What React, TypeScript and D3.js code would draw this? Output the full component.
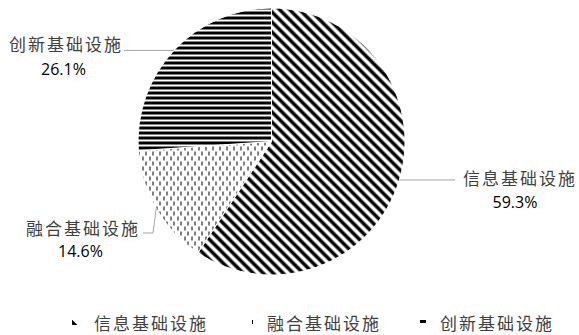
import React from "react";
import * as d3 from "d3";

const categories = ["信息基础设施", "融合基础设施", "创新基础设施"];
const values = [59.3, 14.6, 26.1];
const percentLabels = ["59.3%", "14.6%", "26.1%"];
const patternIds = ["pDiag", "pDash", "pHoriz"];

const W = 579;
const H = 335;
const cx = 271.5;
const cy = 141.5;
const R = 133.5;

// label layout (positions only)
const labelLayout = [
  { nameX: 520, nameY: 177, pctX: 515, pctY: 202, line: (p: [number, number]) => [[p[0], p[1]], [455, p[1]]] },
  { nameX: 83, nameY: 227, pctX: 80.5, pctY: 251, line: (p: [number, number]) => [[p[0], p[1]], [153, 233], [143, 233]] },
  { nameX: 66, nameY: 43.5, pctX: 63.5, pctY: 69, line: (p: [number, number]) => [[p[0], p[1]], [124, p[1]]] },
];
const legendX = [75, 250, 423];
const legendTextX = [94, 267, 440];
const legendY = 322;

const CJK = "'Noto Sans CJK SC', sans-serif";
const LAT = "'Open Sans', 'Noto Sans', sans-serif";

export default function App() {
  const pie = d3.pie<number>().sort(null).value((d) => d);
  const arcs = pie(values);
  const arcGen = d3.arc<d3.PieArcDatum<number>>().innerRadius(0).outerRadius(R);

  return (
    <svg width={W} height={H} style={{ position: "absolute", left: 0, top: 0, background: "#fff" }}>
      <defs>
        <pattern id="pDiag" width={10} height={10} patternUnits="userSpaceOnUse">
          <path d="M-3,-3 L13,13 M-3,7 L3,13 M7,-3 L13,3" stroke="#000" strokeWidth={3.4} />
        </pattern>
        <pattern id="pHoriz" width={5} height={5} patternUnits="userSpaceOnUse">
          <rect x={0} y={0} width={5} height={3} fill="#000" shapeRendering="crispEdges" />
        </pattern>
        <pattern id="pDash" width={7} height={10} patternUnits="userSpaceOnUse">
          <rect x={0} y={0} width={1} height={4} fill="#000" shapeRendering="crispEdges" />
          <rect x={4} y={5} width={1} height={4} fill="#000" shapeRendering="crispEdges" />
        </pattern>
      </defs>
      <g transform={`translate(${cx},${cy})`}>
        {arcs.map((a, i) => (
          <path key={i} d={arcGen(a) || ""} fill={`url(#${patternIds[i]})`} stroke="#fff" strokeWidth={1} />
        ))}
      </g>
      {arcs.map((a, i) => {
        const mid = (a.startAngle + a.endAngle) / 2;
        const p: [number, number] = [cx + R * Math.sin(mid), cy - R * Math.cos(mid)];
        const L = labelLayout[i];
        const pts = L.line(p) as [number, number][];
        return (
          <g key={i}>
            <path d={d3.line()(pts) || ""} fill="none" stroke="#a6a6a6" strokeWidth={1} />
            <text x={L.nameX} y={L.nameY} textAnchor="middle" dominantBaseline="central" fontFamily={CJK} fontSize={17} fill="#404040" letterSpacing={2}>
              {categories[i]}
            </text>
            <text x={L.pctX} y={L.pctY} textAnchor="middle" dominantBaseline="central" fontFamily={LAT} fontSize={16} fill="#000">
              {percentLabels[i]}
            </text>
          </g>
        );
      })}
      {categories.map((c, i) => (
        <g key={c}>
          <rect x={legendX[i] - 3} y={legendY - 2} width={6} height={5} fill={`url(#${patternIds[i]})`} />
          <text x={legendTextX[i]} y={legendY} dominantBaseline="central" fontFamily={CJK} fontSize={17} fill="#404040" letterSpacing={2}>
            {c}
          </text>
        </g>
      ))}
    </svg>
  );
}
